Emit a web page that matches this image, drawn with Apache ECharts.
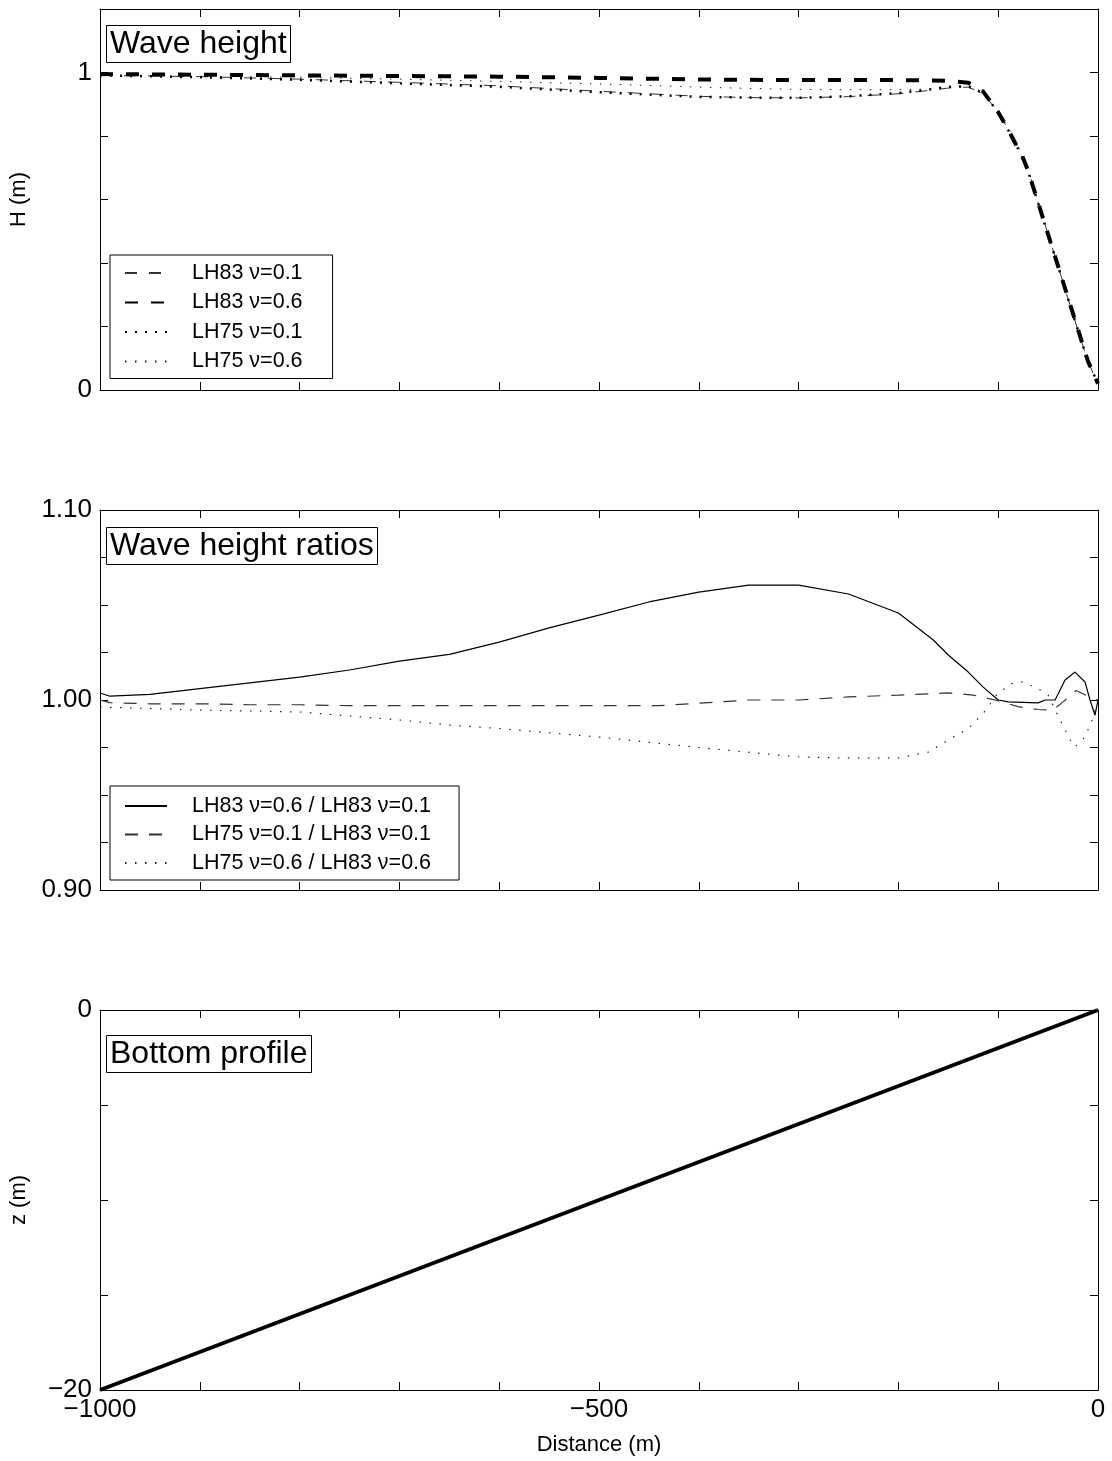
<!DOCTYPE html>
<html><head><meta charset="utf-8">
<script src="https://cdn.jsdelivr.net/npm/echarts@6/dist/echarts.min.js"></script>
<style>html,body{margin:0;padding:0;background:#fff}#c{width:1112px;height:1461px}</style>
</head><body><div id="c"></div><script>
// ---------- data ----------
const xH = [-1000,-900,-800,-700,-600,-500,-400,-350,-300,-250,-200,-165,-150,-130,-115,-100,-90,-80,-75,-70,-60,-50,-40,-30,-20,-10,0];
const h83_01 = [0.991,0.987,0.979,0.969,0.958,0.941,0.925,0.921,0.920,0.924,0.933,0.945,0.951,0.954,0.934,0.875,0.821,0.761,0.731,0.691,0.591,0.490,0.390,0.287,0.187,0.089,0.020];
const h83_06 = [0.995,0.993,0.991,0.989,0.987,0.983,0.978,0.977,0.976,0.976,0.976,0.975,0.974,0.968,0.940,0.875,0.820,0.760,0.730,0.690,0.590,0.490,0.390,0.290,0.190,0.090,0.020];
const h75_01 = [0.991,0.985,0.977,0.966,0.955,0.938,0.923,0.921,0.920,0.925,0.935,0.948,0.955,0.957,0.935,0.875,0.819,0.759,0.728,0.688,0.588,0.488,0.390,0.288,0.188,0.089,0.020];
const h75_06 = [0.991,0.988,0.985,0.979,0.972,0.964,0.954,0.950,0.947,0.946,0.946,0.948,0.954,0.953,0.933,0.878,0.827,0.767,0.737,0.696,0.594,0.491,0.387,0.284,0.185,0.089,0.020];

const xR1 = [-1000,-990,-950,-900,-850,-800,-750,-700,-650,-600,-550,-500,-450,-400,-350,-300,-250,-200,-165,-150,-130,-115,-100,-90,-60,-53,-43,-33,-23,-13,-8,-3,0];
const r1 = [1.0037,1.002,1.003,1.006,1.009,1.012,1.0158,1.0205,1.024,1.0305,1.038,1.0447,1.0516,1.0568,1.0605,1.0605,1.0558,1.0458,1.0316,1.0237,1.0147,1.0068,1.0,0.999,0.9985,1.0,1.0,1.0105,1.0147,1.0095,1.0,0.992,1.0];
const xR2 = [-1000,-990,-950,-900,-850,-800,-750,-700,-600,-500,-440,-410,-350,-300,-250,-200,-150,-125,-100,-80,-60,-45,-35,-22,-10,0];
const r2 = [1.0,0.9986,0.998,0.998,0.9975,0.9975,0.997,0.997,0.997,0.997,0.997,0.998,1.0,1.0,1.0016,1.0026,1.0037,1.0026,0.9996,0.9965,0.995,0.9947,0.999,1.005,1.002,1.0];
const xR3 = [-1000,-900,-800,-700,-650,-600,-500,-400,-300,-250,-200,-170,-150,-130,-115,-100,-85,-75,-60,-50,-38,-28,-23,-13,-6,0];
const r3 = [0.9963,0.9947,0.9937,0.9895,0.9868,0.985,0.9805,0.975,0.970,0.9695,0.9695,0.9726,0.979,0.985,0.993,1.0037,1.009,1.0095,1.006,1.0026,0.9895,0.979,0.9753,0.9805,0.9895,1.0];

const xZ = [-1000,-500,0];
const zBed = [-20,-10,0];

const titles = ['Wave height','Wave height ratios','Bottom profile'];
const namesH = ['LH83 \u03bd=0.1','LH83 \u03bd=0.6','LH75 \u03bd=0.1','LH75 \u03bd=0.6'];
const namesR = ['LH83 \u03bd=0.6 / LH83 \u03bd=0.1','LH75 \u03bd=0.1 / LH83 \u03bd=0.1','LH75 \u03bd=0.6 / LH83 \u03bd=0.6'];
const xTickLabels = {'-1000':'\u22121000','-500':'\u2212500','0':'0'};
const yLabelsH = {'0':'0','1':'1'};
const yLabelsR = ['0.90','1.00','1.10'];
const yLabelsZ = {'-20':'\u221220','0':'0'};

// ---------- chart ----------
const FONT = '"Liberation Sans", Arial, Helvetica, sans-serif';
const zip = (xs, ys) => xs.map((x, i) => [x, ys[i]]);
const grids = [
  {left:100, width:998, top:9, height:381},
  {left:100, width:998, top:510, height:380},
  {left:100, width:998, top:1010, height:380}
];
const lbl = {color:'#000', fontSize:26, fontFamily:FONT};
function axLine(){ return {show:true, onZero:false, lineStyle:{color:'#000', width:1}}; }
function tick(){ return {show:true, inside:true, length:8, lineStyle:{color:'#000', width:1}}; }
function xAx(gi, pos, labels){
  return {type:'value', gridIndex:gi, position:pos, min:-1000, max:0, interval:100,
    axisLine:axLine(), axisTick:tick(), splitLine:{show:false},
    axisLabel: labels ? Object.assign({show:true, margin:7, showMinLabel:true, showMaxLabel:true,
      formatter: v => { const k = String(Math.round(v)); return xTickLabels[k] !== undefined ? xTickLabels[k] : ''; }}, lbl) : {show:false}};
}
function yAx(gi, pos, min, max, interval, fmt){
  return {type:'value', gridIndex:gi, position:pos, min:min, max:max, interval:interval,
    axisLine:axLine(), axisTick:tick(), splitLine:{show:false},
    axisLabel: fmt ? Object.assign({show:true, margin:8, showMinLabel:true, showMaxLabel:true, formatter:fmt}, lbl) : {show:false}};
}
const xAxes = [
  xAx(0,'bottom',false), xAx(0,'top',false),
  xAx(1,'bottom',false), xAx(1,'top',false),
  xAx(2,'bottom',true), xAx(2,'top',false)
];
xAxes[4].name = 'Distance (m)';
xAxes[4].nameLocation = 'middle';
xAxes[4].nameGap = 44;
xAxes[4].nameTextStyle = {color:'#000', fontSize:22, fontFamily:FONT};

const yAxes = [
  yAx(0,'left',0,1.2,0.2, v => { const k = String(Math.round(v*1000)/1000); return yLabelsH[k] || ''; }),
  yAx(0,'right',0,1.2,0.2,null),
  yAx(1,'left',0.9,1.1,0.025, v => { const s = v.toFixed(2); return (yLabelsR.indexOf(s) >= 0 && Math.abs(v - parseFloat(s))<1e-6) ? s : ''; }),
  yAx(1,'right',0.9,1.1,0.025,null),
  yAx(2,'left',-20,0,5, v => { const k = String(Math.round(v)); return yLabelsZ[k] || ''; }),
  yAx(2,'right',-20,0,5,null)
];
yAxes[0].name = 'H (m)'; yAxes[4].name = 'z (m)';
[0,4].forEach(i => { yAxes[i].nameLocation = 'middle'; yAxes[i].nameGap = 70; yAxes[i].nameTextStyle = {color:'#000', fontSize:22, fontFamily:FONT}; });

function ser(name, xs, ys, gi, ls){
  return {type:'line', name:name, data:zip(xs, ys), xAxisIndex:gi*2, yAxisIndex:gi*2,
    symbol:'none', showSymbol:false, smooth:false, clip:true, animation:false,
    lineStyle:Object.assign({color:'#000'}, ls), itemStyle:{color:'#000'}};
}
const series = [
  ser(namesH[0], xH, h83_01, 0, {width:1, type:[12,12], color:'#333'}),
  ser(namesH[1], xH, h83_06, 0, {width:4, type:[13,13]}),
  ser(namesH[2], xH, h75_01, 0, {width:2.5, type:[2,8]}),
  ser(namesH[3], xH, h75_06, 0, {width:1, type:[1.5,8.5], color:'#222'}),
  ser(namesR[0], xR1, r1, 1, {width:1.2, type:'solid'}),
  ser(namesR[1], xR2, r2, 1, {width:1.2, type:[13,11], color:'#333'}),
  ser(namesR[2], xR3, r3, 1, {width:1.2, type:[1.5,8.5], color:'#222'}),
  ser('bed', xZ, zBed, 2, {width:4})
];

const titleBoxes = [
  {left:106, top:25}, {left:106, top:527}, {left:106, top:1035}
].map((p, i) => ({text:titles[i], left:p.left, top:p.top, padding:[3,4,2,4], borderColor:'#000', borderWidth:1,
   backgroundColor:'#fff', textStyle:{fontSize:32, fontWeight:'normal', color:'#000', fontFamily:FONT, lineHeight:33}}));

const legendCommon = {orient:'vertical', itemWidth:42, itemHeight:14, borderColor:'#000', borderWidth:1,
  backgroundColor:'#fff', selectedMode:false, align:'left',
  itemStyle:{color:'transparent', borderColor:'transparent', borderWidth:0, opacity:0},
  textStyle:{fontSize:21.5, fontFamily:FONT, color:'#000', padding:[0,0,0,20]}};
const legends = [
  Object.assign({}, legendCommon, {data:namesH, left:110, top:255, itemGap:7.5, padding:[7,30,6,14]}),
  Object.assign({}, legendCommon, {data:namesR, left:110, top:786, itemGap:6.5, padding:[9,28,6,14]})
];

const chart = echarts.init(document.getElementById('c'), null, {renderer:'canvas'});
chart.setOption({
  animation:false,
  backgroundColor:'#fff',
  title:titleBoxes,
  legend:legends,
  grid:grids,
  xAxis:xAxes,
  yAxis:yAxes,
  series:series
});
</script></body></html>
